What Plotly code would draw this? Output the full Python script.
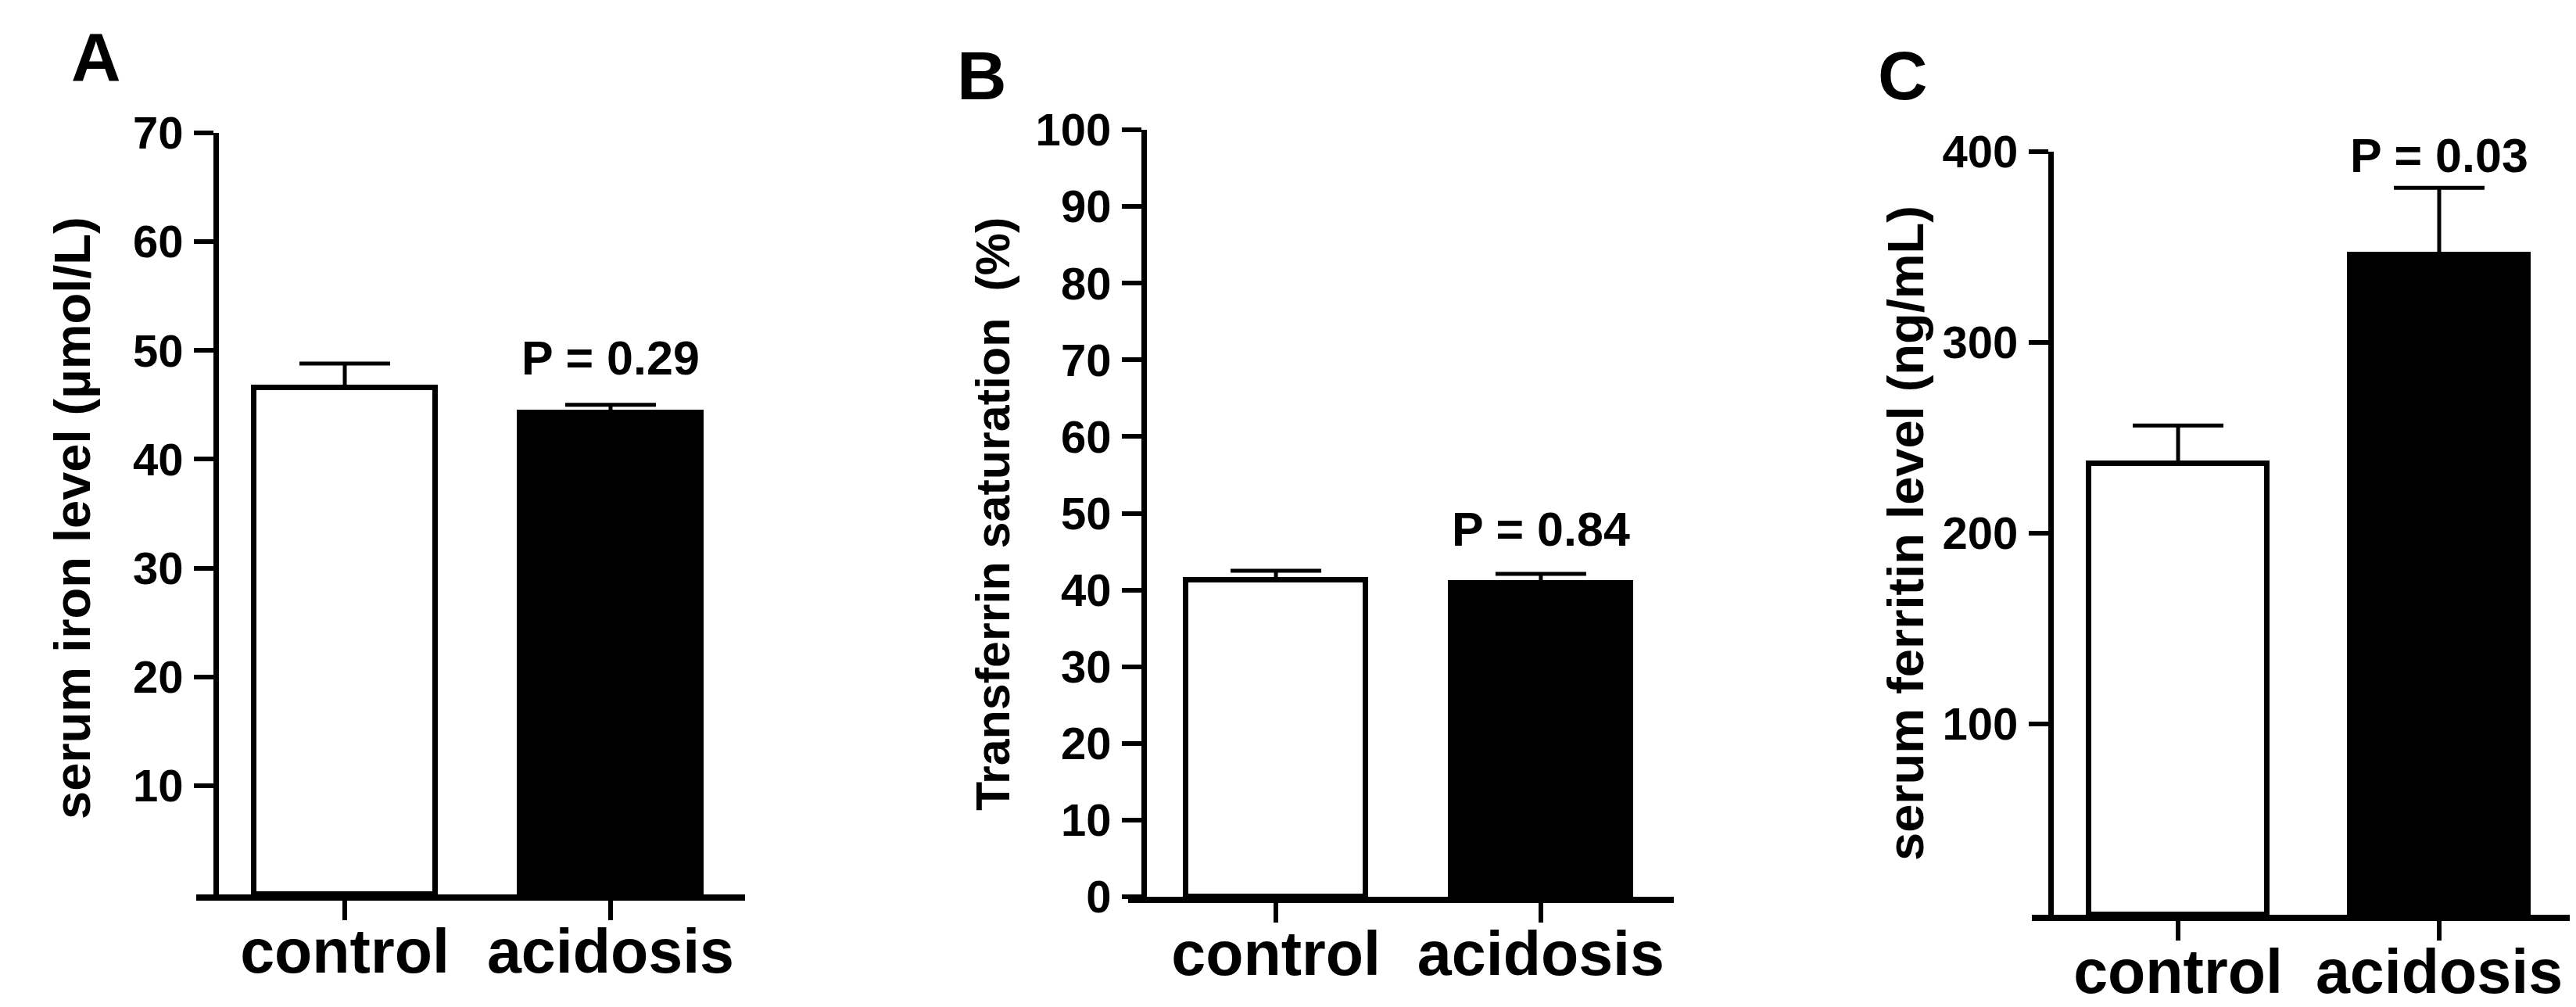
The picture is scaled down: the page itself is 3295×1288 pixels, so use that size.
import plotly.graph_objects as go

W, H = 3295, 1288

categories = ["control", "acidosis"]

iron_mean = [46.6, 44.3]
iron_sem = [2.2, 0.7]
tsat_mean = [41.3, 40.9]
tsat_sem = [1.2, 1.2]
ferritin_mean = [236.5, 346.0]
ferritin_sem = [20.0, 35.0]

p_labels = ["P = 0.29", "P = 0.84", "P = 0.03"]
panel_letters = ["A", "B", "C"]
y_titles = ["serum iron level (µmol/L)", "Transferrin saturation  (%)", "serum ferritin level (ng/mL)"]
y_ticks = [[10, 20, 30, 40, 50, 60, 70],
           [0, 10, 20, 30, 40, 50, 60, 70, 80, 90, 100],
           [100, 200, 300, 400]]
y_max = [70, 100, 400]

# layout geometry (pixels in the 3295x1288 canvas)
panels = [
    dict(xl=243, xr=945, xrange=[-0.559, 1.506], yaxis_px=268, y0=1136, ytop=162,
         p_y=49.3, letter=(115, 65), title=(84, 655), tsize=65),
    dict(xl=1435, xr=2133, xrange=[-0.558, 1.502], yaxis_px=1455, y0=1139, ytop=158,
         p_y=47.9, letter=(1248, 88), title=(1262, 650), tsize=61),
    dict(xl=2591, xr=3283, xrange=[-0.56, 1.512], yaxis_px=2615, y0=1162, ytop=186,
         p_y=398, letter=(2426, 88), title=(2429, 674), tsize=65),
]

means = [iron_mean, tsat_mean, ferritin_mean]
sems = [iron_sem, tsat_sem, ferritin_sem]

FONT = "Liberation Sans, Arial, Helvetica, sans-serif"

fig = go.Figure()
annotations = []
layout = dict(width=W, height=H, margin=dict(l=0, r=0, t=0, b=0, pad=0, autoexpand=False),
              paper_bgcolor="white", plot_bgcolor="white", showlegend=False,
              bargap=0, template="none")

for i, pan in enumerate(panels):
    n = "" if i == 0 else str(i + 1)
    xa, ya = "x" + n, "y" + n
    fig.add_trace(go.Bar(
        x=[0, 1], y=means[i], width=0.68,
        marker=dict(color=["white", "black"], line=dict(color="black", width=7)),
        error_y=dict(type="data", symmetric=False, array=sems[i], arrayminus=[0, 0],
                     color="black", thickness=5, width=58),
        xaxis=xa, yaxis=ya, hoverinfo="skip"))
    xdom = [pan["xl"] / W, pan["xr"] / W]
    ydom = [1 - pan["y0"] / H, 1 - pan["ytop"] / H]
    layout["xaxis" + n] = dict(
        domain=xdom, range=pan["xrange"], anchor=ya, automargin=False,
        tickvals=[0, 1], ticktext=categories,
        showline=True, linewidth=8, linecolor="black",
        ticks="outside", ticklen=25, tickwidth=6, tickcolor="black",
        showgrid=False, zeroline=False, ticklabelstandoff=-28,
        tickfont=dict(family=FONT, size=79, color="black", weight="bold"))
    layout["yaxis" + n] = dict(
        domain=ydom, range=[0, y_max[i]], anchor="free", position=pan["yaxis_px"] / W,
        automargin=False,
        tickvals=y_ticks[i], ticktext=[str(v) for v in y_ticks[i]],
        showline=True, linewidth=7, linecolor="black",
        ticks="outside", ticklen=25, tickwidth=6, tickcolor="black",
        showgrid=False, zeroline=False, ticklabelstandoff=2,
        tickfont=dict(family=FONT, size=58, color="black", weight="bold"))
    annotations.append(dict(
        x=1, y=pan["p_y"], xref=xa, yref=ya, text=p_labels[i], showarrow=False,
        xanchor="center", yanchor="middle",
        font=dict(family=FONT, size=61, color="black", weight="bold")))
    annotations.append(dict(
        x=pan["letter"][0] / W, y=1 - pan["letter"][1] / H, xref="paper", yref="paper",
        text=panel_letters[i], showarrow=False, xanchor="center", yanchor="middle",
        font=dict(family=FONT, size=88, color="black", weight="bold")))
    annotations.append(dict(
        x=pan["title"][0] / W, y=1 - pan["title"][1] / H, xref="paper", yref="paper",
        text=y_titles[i], showarrow=False, textangle=-90,
        xanchor="center", yanchor="middle",
        font=dict(family=FONT, size=pan["tsize"], color="black", weight="bold")))

layout["annotations"] = annotations
fig.update_layout(**layout)
fig.write_html("out.html")
